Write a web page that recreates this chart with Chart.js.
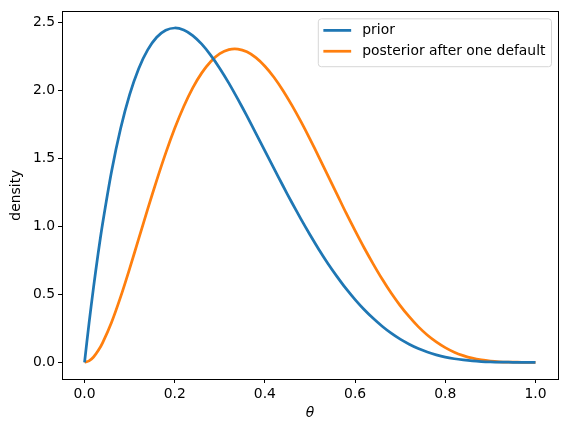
<!DOCTYPE html>
<html>
<head>
<meta charset="utf-8">
<script src="https://cdn.jsdelivr.net/npm/chart.js@4"></script>
<style>
  html, body { margin: 0; padding: 0; background: #fff; }
  #densityChart { display: block; }
</style>
</head>
<body>
<canvas id="densityChart" width="567" height="433"></canvas>
<script>
// theta grid and the two curves
var thetas = [0.00, 0.01, 0.02, 0.03, 0.04, 0.06, 0.08, 0.10, 0.12, 0.14, 0.16, 0.18,
	0.20, 0.22, 0.24, 0.26, 0.28, 0.30, 0.32, 0.34, 0.36, 0.38,
	0.40, 0.42, 0.44, 0.46, 0.48, 0.50, 0.52, 0.54, 0.56, 0.58,
	0.60, 0.62, 0.64, 0.66, 0.68, 0.70, 0.72, 0.74, 0.76, 0.78,
	0.80, 0.82, 0.84, 0.86, 0.88, 0.90, 0.92, 0.94, 0.96, 0.98, 1.00];

var priorDensity = [0, 0.288, 0.553, 0.797, 1.019, 1.405, 1.719, 1.968, 2.159, 2.297, 2.390, 2.441,
	2.458, 2.443, 2.402, 2.339, 2.257, 2.161, 2.053, 1.935, 1.812, 1.684,
	1.555, 1.426, 1.298, 1.173, 1.053, 0.938, 0.828, 0.725, 0.630, 0.541,
	0.461, 0.388, 0.323, 0.265, 0.214, 0.170, 0.133, 0.101, 0.076, 0.055,
	0.038, 0.026, 0.017, 0.010, 0.0055, 0.0027, 0.0011, 0.0004, 0.0001, 0, 0];

var posteriorDensity = [0, 0.010, 0.039, 0.084, 0.143, 0.295, 0.481, 0.689, 0.907, 1.126, 1.338, 1.538,
	1.720, 1.881, 2.018, 2.128, 2.212, 2.269, 2.299, 2.303, 2.283, 2.240,
	2.177, 2.096, 1.999, 1.889, 1.769, 1.641, 1.507, 1.370, 1.235, 1.098,
	0.968, 0.842, 0.724, 0.612, 0.509, 0.417, 0.335, 0.262, 0.201, 0.150,
	0.108, 0.074, 0.049, 0.030, 0.017, 0.0085, 0.0035, 0.0013, 0.0003, 0, 0];

var seriesLabels = ['prior', 'posterior after one default'];
var seriesColors = ['#1f77b4', '#ff7f0e'];

var xTicks = [0.0, 0.2, 0.4, 0.6, 0.8, 1.0];
var yTicks = [0.0, 0.5, 1.0, 1.5, 2.0, 2.5];

var FONT = "'DejaVu Sans', sans-serif";

function toPoints(xs, ys) {
	return xs.map(function(x, i) { return {x: x, y: ys[i]}; });
}

// frame around the plot + legend inside the top right corner
var framePlugin = {
	id: 'frame',
	afterDraw: function(chart) {
		var ctx = chart.ctx;
		var a = chart.chartArea;
		ctx.save();
		ctx.strokeStyle = '#000';
		ctx.lineWidth = 1;
		ctx.strokeRect(Math.round(a.left) + 0.5, Math.round(a.top) + 0.5,
			Math.round(a.right - a.left), Math.round(a.bottom - a.top));

		var fs = 13.9;
		ctx.font = fs + 'px ' + FONT;
		var textW = 0;
		seriesLabels.forEach(function(t) { textW = Math.max(textW, ctx.measureText(t).width); });
		var pad = 0.4 * fs, handle = 2 * fs, gap = 0.8 * fs, rowH = fs * 1.5;
		var boxW = pad + handle + gap + textW + pad;
		var boxH = pad * 2 + rowH * seriesLabels.length - 0.5 * fs + 2;
		var right = a.right - 7, top = a.top + 7;
		var left = right - boxW;

		ctx.beginPath();
		ctx.roundRect(left + 0.5, top + 0.5, boxW, boxH, 3);
		ctx.fillStyle = 'rgba(255,255,255,0.8)';
		ctx.fill();
		ctx.strokeStyle = '#d6d6d6';
		ctx.stroke();

		seriesLabels.forEach(function(t, i) {
			var cy = top + pad + 6.5 + i * rowH;
			ctx.beginPath();
			ctx.moveTo(left + pad, cy);
			ctx.lineTo(left + pad + handle, cy);
			ctx.strokeStyle = seriesColors[i];
			ctx.lineWidth = 2.75;
			ctx.stroke();
			ctx.fillStyle = '#000';
			ctx.textBaseline = 'middle';
			ctx.textAlign = 'left';
			ctx.fillText(t, left + pad + handle + gap, cy);
		});
		ctx.restore();
	}
};

var config = {
	type: 'line',
	data: {
		datasets: [{
			label: seriesLabels[0],
			data: toPoints(thetas, priorDensity),
			borderColor: seriesColors[0],
			borderWidth: 2.75,
			pointRadius: 0,
			tension: 0.3,
			fill: false
		}, {
			label: seriesLabels[1],
			data: toPoints(thetas, posteriorDensity),
			borderColor: seriesColors[1],
			borderWidth: 2.75,
			pointRadius: 0,
			tension: 0.3,
			fill: false
		}]
	},
	options: {
		responsive: false,
		animation: false,
		layout: {
			padding: {top: 10, right: 9, bottom: 0, left: 0}
		},
		plugins: {
			legend: {display: false},
			tooltip: {enabled: false}
		},
		scales: {
			x: {
				type: 'linear',
				min: -0.05,
				max: 1.05,
				afterBuildTicks: function(scale) {
					scale.ticks = xTicks.map(function(v) { return {value: v}; });
				},
				afterFit: function(scale) { scale.height = 54; },
				grid: {
					drawOnChartArea: false,
					drawTicks: true,
					tickLength: 4,
					color: '#000'
				},
				border: {display: false},
				ticks: {
					color: '#000',
					padding: 3,
					maxRotation: 0,
					autoSkip: false,
					font: {family: FONT, size: 13.9},
					callback: function(v) { return Number(v).toFixed(1); }
				},
				title: {
					display: true,
					text: 'θ',
					color: '#000',
					padding: {top: 0, bottom: 11.5},
					font: {family: FONT, size: 13.9, style: 'italic'}
				}
			},
			y: {
				type: 'linear',
				min: -0.1229,
				max: 2.5805,
				afterBuildTicks: function(scale) {
					scale.ticks = yTicks.map(function(v) { return {value: v}; });
				},
				afterFit: function(scale) { scale.width = 62; },
				grid: {
					drawOnChartArea: false,
					drawTicks: true,
					tickLength: 4,
					color: '#000'
				},
				border: {display: false},
				ticks: {
					color: '#000',
					padding: 3,
					autoSkip: false,
					font: {family: FONT, size: 13.9},
					callback: function(v) { return Number(v).toFixed(1); }
				},
				title: {
					display: true,
					text: 'density',
					color: '#000',
					padding: {top: 8.5, bottom: 0},
					font: {family: FONT, size: 13.9}
				}
			}
		}
	},
	plugins: [framePlugin]
};

window.onload = function() {
	var ctx = document.getElementById('densityChart').getContext('2d');
	window.densityChart = new Chart(ctx, config);
};
</script>
</body>
</html>
